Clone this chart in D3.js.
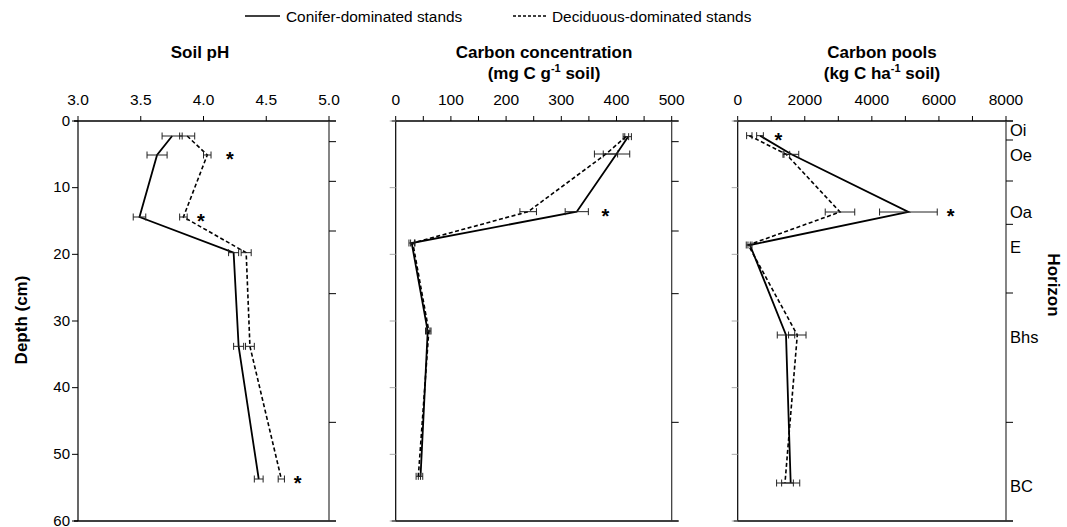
<!DOCTYPE html>
<html><head><meta charset="utf-8">
<script src="https://cdn.jsdelivr.net/npm/d3@7"></script>
<style>
body{margin:0;background:#fff;}
svg{display:block;font-family:"Liberation Sans",Arial,sans-serif;}
</style></head>
<body><svg id="c" width="1067" height="527"></svg>
<script>
// ---------- data ----------
const seriesNames = ["Conifer-dominated stands", "Deciduous-dominated stands"];
const horizonNames = ["Oi", "Oe", "Oa", "E", "Bhs", "BC"];
const horizonLabelDepth = [1.35, 5.1, 13.6, 18.9, 32.4, 54.75];
const horizonBounds = [3.1, 9.05, 16.5, 25.9, 45.2];
const horizonBoundsPools = [2.85, 9.0, 15.5, 25.8, 45.2];
const depthTicks = [0, 10, 20, 30, 40, 50, 60];

const phTicks = [3.0, 3.5, 4.0, 4.5, 5.0];
const phDepth = [2.25, 5.1, 14.4, 19.75, 33.8, 53.7];
const phConifer = [3.75, 3.63, 3.49, 4.24, 4.28, 4.44];
const phConiferErr = [0.08, 0.08, 0.05, 0.04, 0.04, 0.035];
const phDecid = [3.87, 4.03, 3.84, 4.34, 4.37, 4.62];
const phDecidErr = [0.06, 0.03, 0.03, 0.04, 0.035, 0.025];
const phStars = [[4.21, 5.1], [3.98, 14.4], [4.75, 53.7]];

const concTicks = [0, 100, 200, 300, 400, 500];
const concMinor = [0, 50, 100, 150, 200, 250, 300, 350, 400, 450, 500];
const concDepth = [2.35, 4.95, 13.6, 18.3, 31.5, 53.3];
const concConifer = [421, 400, 328, 29, 58, 45];
const concConiferErr = [6, 24, 21, 5, 4, 4];
const concDecid = [417, 381, 240, 31, 60, 41];
const concDecidErr = [5, 21, 15, 4, 4, 4];
const concStars = [[380, 13.6]];

const poolTicks = [0, 2000, 4000, 6000, 8000];
const poolMinor = [0, 1000, 2000, 3000, 4000, 5000, 6000, 7000, 8000];
const poolDepth = [2.2, 5.0, 13.65, 18.6, 32.1, 54.3];
const poolConifer = [665, 1600, 5090, 366, 1440, 1580];
const poolConiferErr = [100, 220, 860, 60, 260, 270];
const poolDecid = [346, 1450, 3050, 315, 1777, 1410];
const poolDecidErr = [80, 100, 440, 60, 260, 250];
const poolStars = [[1210, 2.2], [6350, 13.65]];

// ---------- drawing ----------
const svg = d3.select("#c");
const yTop = 121, yBot = 521;
const y = d3.scaleLinear().domain([0, 60]).range([yTop, yBot]);

const panels = [
  {x0: 78, x1: 329, domain: [3, 5], ticks: phTicks, minor: phTicks, fmt: d3.format(".1f"),
   depth: phDepth, a: phConifer, ae: phConiferErr, b: phDecid, be: phDecidErr, stars: phStars,
   bounds: horizonBounds, labels: true, title: ["Soil pH"], tx: 200},
  {x0: 395.7, x1: 671.7, domain: [0, 500], ticks: concTicks, minor: concMinor, fmt: d3.format("d"),
   depth: concDepth, a: concConifer, ae: concConiferErr, b: concDecid, be: concDecidErr, stars: concStars,
   bounds: horizonBounds, labels: false, title: ["Carbon concentration", ["(mg C g", "-1", " soil)"]], tx: 544},
  {x0: 737.7, x1: 1006, domain: [0, 8000], ticks: poolTicks, minor: poolMinor, fmt: d3.format("d"),
   depth: poolDepth, a: poolConifer, ae: poolConiferErr, b: poolDecid, be: poolDecidErr, stars: poolStars,
   bounds: horizonBoundsPools, labels: false, title: ["Carbon pools", ["(kg C ha", "-1", " soil)"]], tx: 882}
];

panels.forEach((p, pi) => {
  const x = d3.scaleLinear().domain(p.domain).range([p.x0, p.x1]);
  const g = svg.append("g");
  // frame
  g.append("line").attr("x1", p.x0 - 4).attr("x2", p.x1 + 7).attr("y1", yTop).attr("y2", yTop)
    .attr("stroke", "#000").attr("stroke-width", 1.3);
  g.append("line").attr("x1", p.x0 - 4).attr("x2", p.x1 + 7).attr("y1", yBot).attr("y2", yBot)
    .attr("stroke", "#000").attr("stroke-width", 1.3);
  g.append("line").attr("x1", p.x0).attr("x2", p.x0).attr("y1", yTop).attr("y2", yBot)
    .attr("stroke", "#000").attr("stroke-width", 1.2);
  g.append("line").attr("x1", p.x1).attr("x2", p.x1).attr("y1", yTop).attr("y2", yBot)
    .attr("stroke", "#333").attr("stroke-width", 1.2);
  // top ticks
  g.selectAll(".mt").data(p.minor).join("line")
    .attr("x1", d => x(d)).attr("x2", d => x(d)).attr("y1", yTop).attr("y2", yTop - 5)
    .attr("stroke", "#000").attr("stroke-width", 1);
  g.selectAll(".tl").data(p.ticks).join("text")
    .attr("x", d => x(d)).attr("y", 105).attr("text-anchor", "middle")
    .attr("font-size", "15.5px").attr("fill", "#000").text(d => p.fmt(d));
  // left depth ticks
  g.selectAll(".lt").data(depthTicks).join("line")
    .attr("x1", p.x0 - 6).attr("x2", p.x0).attr("y1", d => y(d)).attr("y2", d => y(d))
    .attr("stroke", p.labels ? "#000" : "#aaa").attr("stroke-width", 1);
  if (p.labels) {
    g.selectAll(".ll").data(depthTicks).join("text")
      .attr("x", p.x0 - 8).attr("y", d => y(d) + 4.5).attr("text-anchor", "end")
      .attr("font-size", "15px").text(d => d);
  }
  // right horizon boundary ticks
  g.selectAll(".rt").data(p.bounds).join("line")
    .attr("x1", p.x1).attr("x2", p.x1 + 7).attr("y1", d => y(d)).attr("y2", d => y(d))
    .attr("stroke", "#000").attr("stroke-width", 1);
  // titles
  p.title.forEach((t, i) => {
    const tt = g.append("text").attr("x", p.tx).attr("y", 58 + i * 21).attr("text-anchor", "middle")
      .attr("font-size", "17px").attr("font-weight", "bold");
    if (typeof t === "string") tt.text(t);
    else {
      tt.append("tspan").text(t[0]);
      tt.append("tspan").attr("font-size", "11px").attr("dy", -7).text(t[1]);
      tt.append("tspan").attr("dy", 7).text(t[2]);
    }
  });
  // series
  const series = [
    {v: p.a, e: p.ae, dash: null, w: 1.8},
    {v: p.b, e: p.be, dash: "4,2.5", w: 1.6}
  ];
  series.forEach(s => {
    const pts = s.v.map((v, i) => [x(v), y(p.depth[i])]);
    g.append("path").attr("d", d3.line()(pts)).attr("fill", "none")
      .attr("stroke", "#000").attr("stroke-width", s.w).attr("stroke-dasharray", s.dash);
    const eb = g.selectAll(null).data(s.v.map((v, i) => ({v, e: s.e[i], d: p.depth[i]}))).join("g");
    eb.append("line").attr("x1", d => x(d.v - d.e)).attr("x2", d => x(d.v + d.e))
      .attr("y1", d => y(d.d)).attr("y2", d => y(d.d)).attr("stroke", "#222").attr("stroke-width", 1);
    eb.append("line").attr("x1", d => x(d.v - d.e)).attr("x2", d => x(d.v - d.e))
      .attr("y1", d => y(d.d) - 3.5).attr("y2", d => y(d.d) + 3.5).attr("stroke", "#222").attr("stroke-width", 1);
    eb.append("line").attr("x1", d => x(d.v + d.e)).attr("x2", d => x(d.v + d.e))
      .attr("y1", d => y(d.d) - 3.5).attr("y2", d => y(d.d) + 3.5).attr("stroke", "#222").attr("stroke-width", 1);
  });
  // significance stars
  g.selectAll(".st").data(p.stars).join("text")
    .attr("x", d => x(d[0])).attr("y", d => y(d[1]) + 11).attr("text-anchor", "middle")
    .attr("font-size", "20px").attr("font-weight", "bold").text("*");
  // horizon labels
  if (pi === 2) {
    g.selectAll(".hl").data(horizonNames).join("text")
      .attr("x", p.x1 + 4).attr("y", (d, i) => y(horizonLabelDepth[i]) + 6)
      .attr("font-size", "16.5px").text(d => d);
  }
});

// axis titles
svg.append("text").attr("transform", "translate(27,320) rotate(-90)").attr("text-anchor", "middle")
  .attr("font-size", "17px").attr("font-weight", "bold").text("Depth (cm)");
svg.append("text").attr("transform", "translate(1048,285) rotate(90)").attr("text-anchor", "middle")
  .attr("font-size", "17px").attr("font-weight", "bold").text("Horizon");

// legend
const leg = [{x1: 245, x2: 280, tx: 286, dash: null}, {x1: 513, x2: 547, tx: 552, dash: "3,2"}];
leg.forEach((l, i) => {
  svg.append("line").attr("x1", l.x1).attr("x2", l.x2).attr("y1", 16).attr("y2", 16)
    .attr("stroke", "#000").attr("stroke-width", 1.5).attr("stroke-dasharray", l.dash);
  svg.append("text").attr("x", l.tx).attr("y", 21.5).attr("font-size", "15.4px").text(seriesNames[i]);
});
</script></body></html>
